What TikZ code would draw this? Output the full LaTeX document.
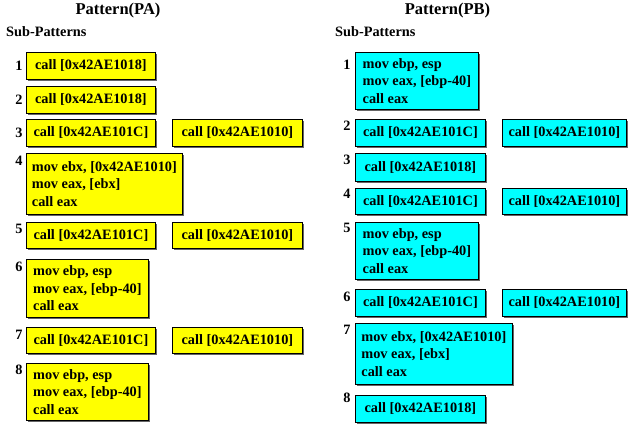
\documentclass[tikz,border=0pt]{standalone}
\usepackage{fontspec}
\setmainfont{Liberation Serif}
\usetikzlibrary{shadows}
\definecolor{yl}{RGB}{255,255,0}
\definecolor{cy}{RGB}{0,255,255}
\begin{document}
\begin{tikzpicture}[x=1pt,y=-1pt,
  every node/.style={font=\bfseries\fontsize{14.3}{17.5}\selectfont, inner sep=0pt},
  title/.style={font=\bfseries\fontsize{16.5}{19}\selectfont},
  num/.style={anchor=center},
  ybox/.style={draw=black, line width=0.8pt, fill=yl, anchor=north west, align=left,
    drop shadow={shadow xshift=1.2pt, shadow yshift=-1.2pt, fill=black!60, opacity=1}},
  cbox/.style={ybox, fill=cy}]
\useasboundingbox (0,0) rectangle (628,426);
% left panel
\node[title] (ta) at (118,11) {Pattern(PA)};
\node[anchor=west] (sa) at (6,32) {Sub-Patterns};
\node[num] (na1) at (19,66) {1};
\node[num] (na2) at (19,100) {2};
\node[num] (na3) at (19,133) {3};
\node[num] (na4) at (19,161) {4};
\node[num] (na5) at (19,229) {5};
\node[num] (na6) at (19,267) {6};
\node[num] (na7) at (19,335) {7};
\node[num] (na8) at (19,370) {8};
\node[ybox, minimum width=129pt, minimum height=27pt] (a1) at (26,52) {call [0x42AE1018]};
\node[ybox, minimum width=129pt, minimum height=27pt] (a2) at (26,86) {call [0x42AE1018]};
\node[ybox, minimum width=129pt, minimum height=27pt] (a3) at (26,119) {call [0x42AE101C]};
\node[ybox, minimum width=130pt, minimum height=27pt] (a3b) at (172,119) {call [0x42AE1010]};
\node[ybox, minimum width=156pt, minimum height=61pt] (a4) at (26,153) {mov ebx, [0x42AE1010]\\mov eax, [ebx]\\call eax};
\node[ybox, minimum width=129pt, minimum height=26pt] (a5) at (26,222) {call [0x42AE101C]};
\node[ybox, minimum width=130pt, minimum height=26pt] (a5b) at (172,222) {call [0x42AE1010]};
\node[ybox, minimum width=122pt, minimum height=58pt] (a6) at (26,259) {mov ebp, esp\\mov eax, [ebp-40]\\call eax};
\node[ybox, minimum width=129pt, minimum height=26pt] (a7) at (26,327) {call [0x42AE101C]};
\node[ybox, minimum width=130pt, minimum height=26pt] (a7b) at (172,327) {call [0x42AE1010]};
\node[ybox, minimum width=122pt, minimum height=57pt] (a8) at (26,363) {mov ebp, esp\\mov eax, [ebp-40]\\call eax};
% right panel
\node[title] (tb) at (447.5,11) {Pattern(PB)};
\node[anchor=west] (sb) at (335,32) {Sub-Patterns};
\node[num] (nb1) at (347,65) {1};
\node[num] (nb2) at (347,126) {2};
\node[num] (nb3) at (347,160) {3};
\node[num] (nb4) at (347,194) {4};
\node[num] (nb5) at (347,228) {5};
\node[num] (nb6) at (347,297) {6};
\node[num] (nb7) at (347,330) {7};
\node[num] (nb8) at (347,398) {8};
\node[cbox, minimum width=123pt, minimum height=57pt] (b1) at (355,52) {mov ebp, esp\\mov eax, [ebp-40]\\call eax};
\node[cbox, minimum width=130pt, minimum height=27pt] (b2) at (355,119) {call [0x42AE101C]};
\node[cbox, minimum width=124pt, minimum height=27pt] (b2b) at (502,119) {call [0x42AE1010]};
\node[cbox, minimum width=130pt, minimum height=28pt] (b3) at (355,153) {call [0x42AE1018]};
\node[cbox, minimum width=130pt, minimum height=26pt] (b4) at (355,188) {call [0x42AE101C]};
\node[cbox, minimum width=124pt, minimum height=26pt] (b4b) at (502,188) {call [0x42AE1010]};
\node[cbox, minimum width=123pt, minimum height=57pt] (b5) at (355,222) {mov ebp, esp\\mov eax, [ebp-40]\\call eax};
\node[cbox, minimum width=130pt, minimum height=27pt] (b6) at (355,289) {call [0x42AE101C]};
\node[cbox, minimum width=124pt, minimum height=27pt] (b6b) at (502,289) {call [0x42AE1010]};
\node[cbox, minimum width=157pt, minimum height=61pt] (b7) at (355,323) {mov ebx, [0x42AE1010]\\mov eax, [ebx]\\call eax};
\node[cbox, minimum width=130pt, minimum height=27pt] (b8) at (355,395) {call [0x42AE1018]};
\end{tikzpicture}
\end{document}
